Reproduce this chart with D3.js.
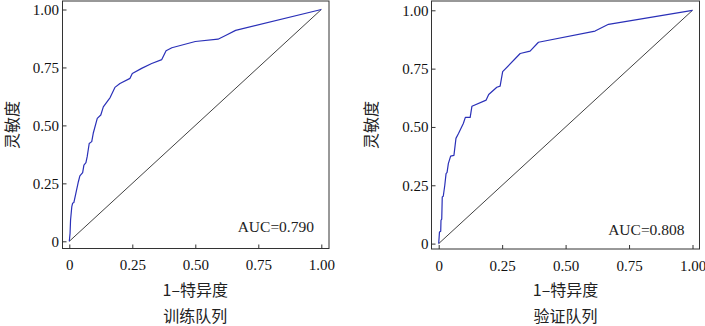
<!DOCTYPE html>
<html><head><meta charset="utf-8">
<script src="https://cdn.jsdelivr.net/npm/d3@7"></script>
<style>
html,body{margin:0;padding:0;background:#fff;}
svg{display:block;}
</style></head>
<body>
<svg id="chart" width="705" height="326"></svg>
<script>
// ---- data ----
const tickValues = [0, 0.25, 0.5, 0.75, 1];
const tickLabels = ["0", "0.25", "0.50", "0.75", "1.00"];
const panelTitles = ["训练队列", "验证队列"];
const aucLabels = ["AUC=0.790", "AUC=0.808"];
const xAxisLabel = "1–特异度";
const yAxisLabel = "灵敏度";

const trainFPR = [0,0.003,0.005,0.010,0.013,0.018,0.026,0.036,0.042,0.053,0.058,0.066,0.071,0.079,0.089,0.095,0.111,0.125,0.135,0.162,0.181,0.201,0.241,0.250,0.287,0.327,0.367,0.384,0.407,0.500,0.590,0.620,0.660,1];
const trainTPR = [0,0.034,0.092,0.150,0.164,0.167,0.207,0.257,0.282,0.296,0.329,0.339,0.365,0.422,0.430,0.466,0.530,0.545,0.580,0.620,0.664,0.681,0.703,0.724,0.746,0.767,0.784,0.822,0.835,0.862,0.872,0.888,0.910,1];

const validFPR = [0,0.003,0.008,0.009,0.012,0.014,0.018,0.024,0.029,0.033,0.038,0.047,0.060,0.068,0.078,0.097,0.105,0.124,0.131,0.187,0.197,0.229,0.242,0.252,0.321,0.360,0.393,0.616,0.669,1];
const validTPR = [0,0.050,0.053,0.100,0.105,0.200,0.203,0.250,0.300,0.305,0.343,0.375,0.378,0.451,0.472,0.515,0.541,0.541,0.589,0.615,0.639,0.670,0.675,0.737,0.815,0.825,0.863,0.911,0.940,1];

// ---- layout ----
const panels = [
  {fpr: trainFPR, tpr: trainTPR, frame:[62.5, 1, 329, 248.5], xr:[69.3, 321.3], yr:[241.3, 9.5], ylabX: 12, yTickX: 59},
  {fpr: validFPR, tpr: validTPR, frame:[431.5, 1, 699.5, 249], xr:[438.7, 692.5], yr:[243.6, 10.3], ylabX: 371, yTickX: 428.5}
];

const svg = d3.select("#chart");
const serif = "'Liberation Serif','Times New Roman','Noto Sans CJK SC',serif";
const cjk = "'Noto Sans CJK SC','Liberation Serif',serif";

panels.forEach((p, i) => {
  const x = d3.scaleLinear().domain([0,1]).range(p.xr);
  const y = d3.scaleLinear().domain([0,1]).range(p.yr);
  const [fx0, fy0, fx1, fy1] = p.frame;
  const g = svg.append("g");

  // diagonal
  g.append("line")
    .attr("x1", x(0)).attr("y1", y(0)).attr("x2", x(1)).attr("y2", y(1))
    .attr("stroke", "#111").attr("stroke-width", 0.8);

  // ROC curve
  const pts = p.fpr.map((v, k) => [v, p.tpr[k]]);
  g.append("path").datum(pts)
    .attr("d", d3.line().x(d => x(d[0])).y(d => y(d[1])))
    .attr("fill", "none").attr("stroke", "#2a30b8").attr("stroke-width", 1.2)
    .attr("stroke-linejoin", "round");

  // frame
  g.append("rect")
    .attr("x", fx0).attr("y", fy0).attr("width", fx1 - fx0).attr("height", fy1 - fy0)
    .attr("fill", "none").attr("stroke", "#333").attr("stroke-width", 1);

  // x ticks (inward) and labels
  const xAx = d3.axisBottom(x).tickValues(tickValues).tickFormat((d, k) => tickLabels[k]).tickSizeInner(-4).tickSizeOuter(0).tickPadding(11);
  const xg = g.append("g").attr("transform", `translate(0,${fy1})`).call(xAx);
  xg.select(".domain").remove();
  xg.selectAll("line").attr("stroke", "#333");
  xg.selectAll("text").attr("font-family", serif).attr("font-size", 15).attr("fill", "#111");

  const yAx = d3.axisLeft(y).tickValues(tickValues).tickFormat((d, k) => tickLabels[k]).tickSizeInner(-4).tickSizeOuter(0).tickPadding(0);
  const yg = g.append("g").attr("transform", `translate(${fx0},0)`).call(yAx);
  yg.select(".domain").remove();
  yg.selectAll("line").attr("stroke", "#333");
  yg.selectAll("text").attr("x", p.yTickX - fx0).attr("font-family", serif).attr("font-size", 15).attr("fill", "#111");

  // AUC
  g.append("text").attr("x", fx1 - 15).attr("y", y(0) - 9).attr("text-anchor", "end")
    .attr("font-family", serif).attr("font-size", 15.5).attr("fill", "#222").text(aucLabels[i]);

  // axis titles
  const cx = (p.xr[0] + p.xr[1]) / 2;
  g.append("text").attr("x", cx).attr("y", 296).attr("text-anchor", "middle")
    .attr("font-family", cjk).attr("font-size", 16).attr("fill", "#222").text(xAxisLabel);
  g.append("text").attr("transform", `translate(${p.ylabX},125) rotate(-90)`).attr("text-anchor", "middle")
    .attr("dy", "0.35em").attr("font-family", cjk).attr("font-size", 16).attr("fill", "#222").text(yAxisLabel);
  g.append("text").attr("x", cx).attr("y", 322).attr("text-anchor", "middle")
    .attr("font-family", cjk).attr("font-size", 16).attr("fill", "#222").text(panelTitles[i]);
});
</script>
</body></html>
